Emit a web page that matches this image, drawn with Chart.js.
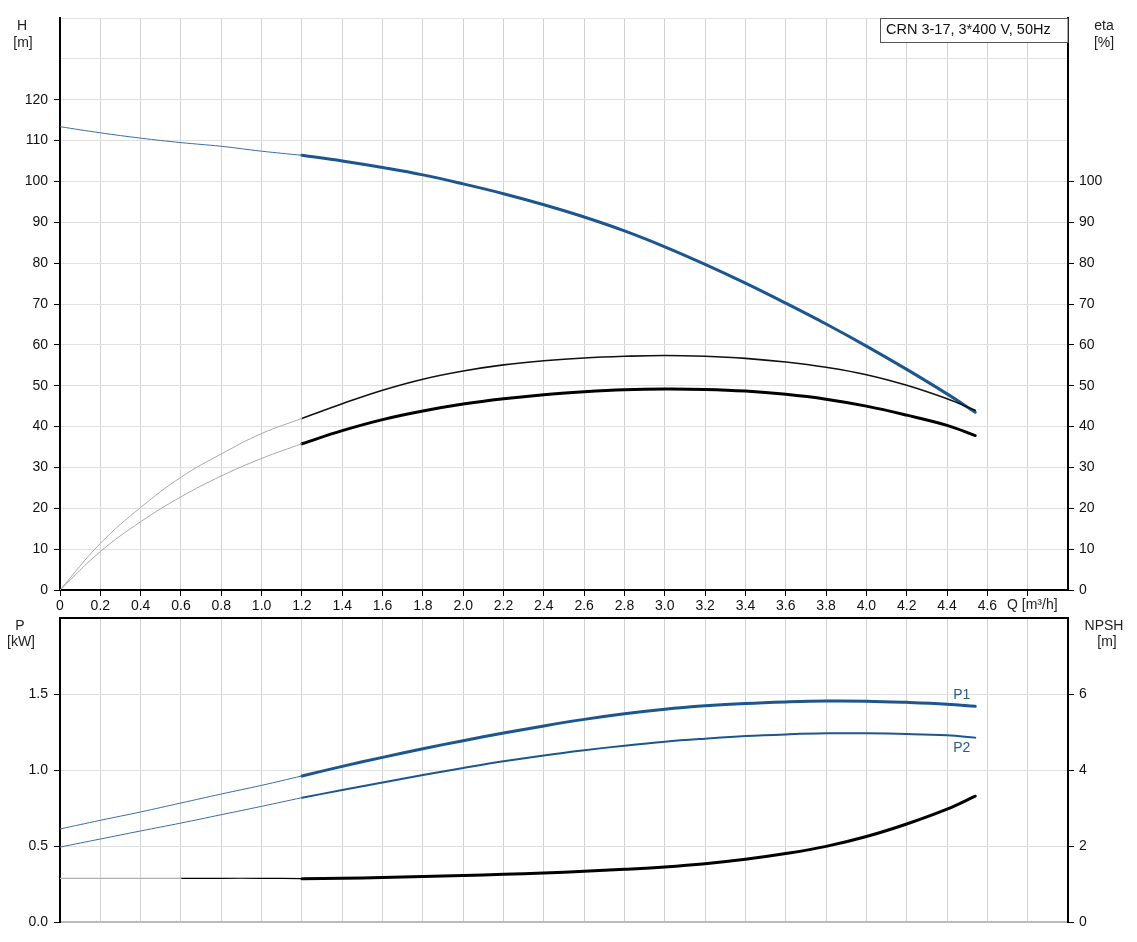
<!DOCTYPE html>
<html>
<head>
<meta charset="utf-8">
<script src="https://cdn.jsdelivr.net/npm/chart.js@4.4.1/dist/chart.umd.min.js"></script>
<style>
  html, body { margin: 0; padding: 0; background: #fff; }
  #wrap { position: relative; width: 1137px; height: 942px; }
  #top { position: absolute; left: 0; top: 0; }
  #bot { position: absolute; left: 0; top: 600px; }
</style>
</head>
<body>
<div id="wrap">
  <canvas id="top" width="1137" height="614"></canvas>
  <canvas id="bot" width="1137" height="342"></canvas>
</div>
<script>
// flow points, thin part (outside the duty range) and main part
const qThin = [0, 0.2, 0.4, 0.6, 0.8, 1.0, 1.2];
const qMain = [1.2, 1.4, 1.6, 1.8, 2.0, 2.2, 2.4, 2.6, 2.8, 3.0, 3.2, 3.4, 3.6, 3.8, 4.0, 4.2, 4.4, 4.54];

// head H [m]
const hThin = [113.4, 111.9, 110.6, 109.5, 108.6, 107.4, 106.4];
const hMain = [106.4, 105.0, 103.4, 101.6, 99.4, 97.0, 94.3, 91.3, 87.9, 84.0, 79.7, 75.1, 70.2, 65.1, 59.7, 54.0, 48.0, 43.5];

// efficiency eta [%], upper thin curve and lower thick curve
const etaUpThin = [0, 11.4, 20.2, 27.6, 33.3, 38.3, 42.0];
const etaUpMain = [42.0, 45.6, 48.9, 51.6, 53.6, 55.1, 56.1, 56.8, 57.2, 57.4, 57.2, 56.7, 55.8, 54.5, 52.7, 50.1, 46.8, 44.0];
const etaLoThin = [0, 9.4, 16.7, 22.8, 27.9, 32.2, 35.8];
const etaLoMain = [35.8, 39.0, 41.7, 43.8, 45.5, 46.8, 47.8, 48.5, 49.0, 49.2, 49.1, 48.7, 47.9, 46.7, 45.0, 42.8, 40.3, 37.8];

// power P1 / P2 [kW]
const p1Thin = [0.612, 0.669, 0.724, 0.783, 0.842, 0.899, 0.961];
const p1Main = [0.961, 1.024, 1.083, 1.140, 1.193, 1.243, 1.290, 1.333, 1.370, 1.400, 1.422, 1.438, 1.448, 1.454, 1.453, 1.445, 1.433, 1.419];
const p2Thin = [0.493, 0.546, 0.599, 0.651, 0.706, 0.761, 0.818];
const p2Main = [0.818, 0.868, 0.918, 0.967, 1.013, 1.057, 1.096, 1.130, 1.160, 1.186, 1.206, 1.223, 1.234, 1.241, 1.241, 1.237, 1.228, 1.213];

// NPSH [m]
const qNpshGray = [0, 0.2, 0.4, 0.6];
const npshGray = [1.15, 1.15, 1.15, 1.15];
const qNpshThin = [0.6, 0.8, 1.0, 1.2];
const npshThin = [1.15, 1.15, 1.15, 1.14];
const npshMain = [1.14, 1.15, 1.17, 1.20, 1.225, 1.255, 1.29, 1.334, 1.387, 1.45, 1.535, 1.65, 1.80, 1.99, 2.25, 2.58, 2.97, 3.31];

const title = 'CRN 3-17, 3*400 V, 50Hz';

const BLUE = '#1b5690';
const FONT = "'Liberation Sans', Arial, sans-serif";
Chart.defaults.font.family = FONT;
Chart.defaults.font.size = 14;
Chart.defaults.color = '#111';

function pts(qs, vs) {
  return qs.map((q, i) => ({ x: q, y: vs[i] }));
}

function line(qs, vs, color, width, axis) {
  return {
    data: pts(qs, vs),
    yAxisID: axis,
    borderColor: color,
    borderWidth: width,
    borderCapStyle: 'round',
    pointRadius: 0,
    showLine: true,
    fill: false,
    tension: 0.4
  };
}

function fixWidth(w) {
  return function (scale) { scale.width = w; scale.paddingTop = 0; scale.paddingBottom = 0; };
}
function fixHeight(h) {
  return function (scale) { scale.height = h; scale.paddingLeft = 0; scale.paddingRight = 0; };
}

function text(ctx, s, x, y, align) {
  ctx.textAlign = align || 'center';
  ctx.textBaseline = 'middle';
  ctx.fillText(s, x, y);
}

const topTexts = {
  id: 'topTexts',
  afterDraw(chart) {
    const { ctx, chartArea } = chart;
    ctx.save();
    ctx.font = '14px ' + FONT;
    ctx.fillStyle = '#222';
    text(ctx, 'H', 22, 26);
    text(ctx, '[m]', 23, 43);
    text(ctx, 'eta', 1104, 26);
    text(ctx, '[%]', 1104, 43);
    text(ctx, 'Q [m³/h]', 1007, 605, 'left');

    // title box
    ctx.fillStyle = '#fff';
    ctx.fillRect(880.5, chartArea.top, chartArea.right - 880.5, 24.5);
    ctx.strokeStyle = '#555';
    ctx.lineWidth = 1;
    ctx.strokeRect(880.5, chartArea.top + 0.5, chartArea.right - 880.5, 24);
    ctx.fillStyle = '#111';
    ctx.font = '14.5px ' + FONT;
    text(ctx, title, 886, chartArea.top + 12, 'left');
    ctx.restore();
  }
};

const botTexts = {
  id: 'botTexts',
  afterDraw(chart) {
    const { ctx, scales } = chart;
    ctx.save();
    ctx.font = '14px ' + FONT;
    ctx.fillStyle = '#222';
    text(ctx, 'P', 20, 26);
    text(ctx, '[kW]', 21, 42);
    text(ctx, 'NPSH', 1104, 26);
    text(ctx, '[m]', 1107, 42);

    const qEnd = qMain[qMain.length - 1];
    const xe = scales.x.getPixelForValue(qEnd) - 22;
    ctx.fillStyle = '#2b5a91';
    text(ctx, 'P1', xe, scales.y.getPixelForValue(p1Main[p1Main.length - 1]) - 11, 'left');
    text(ctx, 'P2', xe, scales.y.getPixelForValue(p2Main[p2Main.length - 1]) + 11, 'left');
    ctx.restore();
  }
};

const hideTick = (max) => (c) => (c.tick && c.tick.value <= max + 1e-6) ? '#000' : 'rgba(0,0,0,0)';

new Chart('top', {
  type: 'scatter',
  data: {
    datasets: [
      line(qThin, etaUpThin, '#a8a8a8', 1, 'y1'),
      line(qThin, etaLoThin, '#a8a8a8', 1, 'y1'),
      line(qMain, etaUpMain, '#111', 1.6, 'y1'),
      line(qMain, etaLoMain, '#000', 3, 'y1'),
      line(qThin, hThin, '#3a6ea5', 1, 'y'),
      line(qMain, hMain, BLUE, 3, 'y')
    ]
  },
  options: {
    responsive: false,
    animation: false,
    layout: { padding: { top: 18, left: 0, right: 0, bottom: 0 } },
    plugins: { legend: { display: false }, tooltip: { enabled: false } },
    scales: {
      x: {
        type: 'linear',
        min: 0,
        max: 5,
        afterFit: fixHeight(24),
        border: { color: '#000', width: 2 },
        grid: { color: '#d2d2d2', tickLength: 6, tickColor: hideTick(4.8) },
        ticks: {
          stepSize: 0.2,
          padding: 2,
          autoSkip: false,
          maxRotation: 0,
          callback: (v) => {
            if (v > 4.65) return '';
            if (Math.abs(v) < 1e-6) return '0';
            return v.toFixed(1);
          }
        }
      },
      y: {
        position: 'left',
        min: 0,
        max: 140,
        afterFit: fixWidth(60),
        border: { color: '#000', width: 2 },
        grid: { color: '#e0e0e0', tickLength: 6, tickColor: hideTick(120) },
        ticks: {
          stepSize: 10,
          padding: 6,
          callback: (v) => v <= 120 ? v : ''
        }
      },
      y1: {
        position: 'right',
        min: 0,
        max: 140,
        afterFit: fixWidth(69),
        border: { color: '#000', width: 2 },
        grid: { drawOnChartArea: false, tickLength: 6, tickColor: hideTick(100) },
        ticks: {
          stepSize: 10,
          padding: 5,
          callback: (v) => v <= 100 ? v : ''
        }
      }
    }
  },
  plugins: [topTexts]
});

new Chart('bot', {
  type: 'scatter',
  data: {
    datasets: [
      line(qNpshGray, npshGray, '#b0b0b0', 1.2, 'y1'),
      line(qNpshThin, npshThin, '#000', 1.2, 'y1'),
      line(qMain, npshMain, '#000', 3, 'y1'),
      line(qThin, p2Thin, '#3a6ea5', 1, 'y'),
      line(qThin, p1Thin, '#3a6ea5', 1, 'y'),
      line(qMain, p2Main, BLUE, 2, 'y'),
      line(qMain, p1Main, BLUE, 3, 'y')
    ]
  },
  options: {
    responsive: false,
    animation: false,
    layout: { padding: { top: 18, left: 0, right: 0, bottom: 0 } },
    plugins: { legend: { display: false }, tooltip: { enabled: false } },
    scales: {
      x: {
        type: 'linear',
        min: 0,
        max: 5,
        afterFit: fixHeight(20),
        border: { color: '#bbb', width: 2 },
        grid: { color: '#d2d2d2', drawTicks: false },
        ticks: { stepSize: 0.2, display: false, autoSkip: false }
      },
      y: {
        position: 'left',
        min: 0,
        max: 2,
        afterFit: fixWidth(60),
        border: { color: '#000', width: 2 },
        grid: {
          color: (c) => (c.tick && c.tick.value >= 2) ? '#000' : '#e0e0e0',
          lineWidth: (c) => (c.tick && c.tick.value >= 2) ? 2 : 1,
          tickLength: 6,
          tickColor: hideTick(1.5)
        },
        ticks: {
          stepSize: 0.5,
          padding: 6,
          callback: (v) => v < 2 ? v.toFixed(1) : ''
        }
      },
      y1: {
        position: 'right',
        min: 0,
        max: 8,
        afterFit: fixWidth(69),
        border: { color: '#000', width: 2 },
        grid: { drawOnChartArea: false, tickLength: 6, tickColor: hideTick(6) },
        ticks: {
          stepSize: 2,
          padding: 5,
          callback: (v) => v < 8 ? v : ''
        }
      }
    }
  },
  plugins: [botTexts]
});
</script>
</body>
</html>
